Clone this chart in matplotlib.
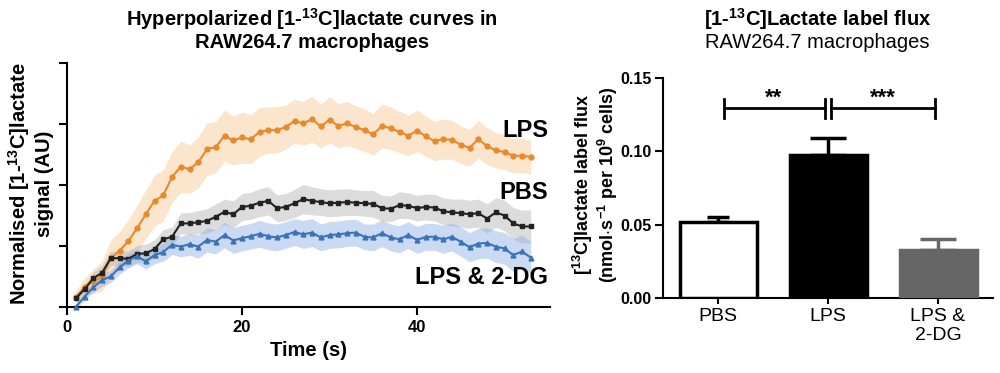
import numpy as np
import matplotlib
matplotlib.use("Agg")
import matplotlib.pyplot as plt

plt.rcParams['font.family'] = ['Liberation Sans', 'DejaVu Sans']
plt.rcParams['mathtext.fontset'] = 'custom'
plt.rcParams['mathtext.rm'] = 'Liberation Sans'
plt.rcParams['mathtext.bf'] = 'Liberation Sans:bold'
plt.rcParams['mathtext.it'] = 'Liberation Sans:italic'

# ---- left panel: hyperpolarized lactate curves (AU, one unit per y tick) ----
time_s = np.arange(1, 54)

lps = [0.16, 0.33, 0.42, 0.50, 0.80, 0.92, 1.08, 1.29, 1.52, 1.74,
       1.83, 2.13, 2.30, 2.26, 2.37, 2.59, 2.62, 2.81, 2.73, 2.78,
       2.75, 2.87, 2.90, 2.90, 2.95, 3.05, 3.01, 3.08, 2.96, 3.07,
       2.97, 3.01, 2.95, 2.90, 2.83, 2.97, 2.93, 2.87, 2.81, 2.89,
       2.80, 2.72, 2.75, 2.74, 2.66, 2.61, 2.75, 2.64, 2.57, 2.54,
       2.48, 2.48, 2.46]
lps_sem = [0.10, 0.15, 0.20, 0.25, 0.30, 0.32, 0.35, 0.38, 0.40, 0.42,
           0.42, 0.42, 0.42, 0.40, 0.42, 0.43, 0.42, 0.42, 0.40, 0.42,
           0.40, 0.40, 0.38, 0.38, 0.36, 0.36, 0.36, 0.38, 0.36, 0.38,
           0.36, 0.36, 0.35, 0.35, 0.34, 0.36, 0.35, 0.34, 0.33, 0.34,
           0.33, 0.32, 0.33, 0.32, 0.31, 0.30, 0.31, 0.30, 0.29, 0.29,
           0.28, 0.28, 0.28]

pbs = [0.14, 0.29, 0.47, 0.56, 0.80, 0.80, 0.79, 0.87, 0.88, 0.95,
       1.11, 1.15, 1.37, 1.37, 1.39, 1.41, 1.48, 1.56, 1.52, 1.64,
       1.66, 1.71, 1.74, 1.62, 1.64, 1.70, 1.77, 1.74, 1.72, 1.70,
       1.71, 1.72, 1.71, 1.70, 1.69, 1.62, 1.61, 1.67, 1.66, 1.62,
       1.64, 1.63, 1.57, 1.55, 1.54, 1.52, 1.54, 1.45, 1.55, 1.50,
       1.37, 1.32, 1.32]
pbs_sem = [0.06, 0.08, 0.10, 0.12, 0.12, 0.12, 0.13, 0.14, 0.15, 0.15,
           0.16, 0.16, 0.17, 0.18, 0.19, 0.20, 0.21, 0.21, 0.22, 0.22,
           0.22, 0.23, 0.23, 0.22, 0.22, 0.23, 0.24, 0.23, 0.22, 0.22,
           0.22, 0.22, 0.21, 0.21, 0.22, 0.21, 0.21, 0.22, 0.21, 0.21,
           0.21, 0.22, 0.22, 0.22, 0.23, 0.23, 0.23, 0.24, 0.24, 0.25,
           0.26, 0.27, 0.27]

lps_2dg = [0.00, 0.17, 0.32, 0.44, 0.50, 0.65, 0.76, 0.83, 0.75, 0.85,
           0.90, 1.02, 0.99, 1.03, 0.99, 1.10, 1.07, 1.18, 1.09, 1.13,
           1.16, 1.20, 1.16, 1.14, 1.18, 1.23, 1.19, 1.22, 1.14, 1.18,
           1.19, 1.21, 1.22, 1.15, 1.14, 1.21, 1.14, 1.11, 1.18, 1.10,
           1.15, 1.15, 1.11, 1.15, 1.07, 0.98, 1.04, 1.05, 0.99, 0.96,
           0.85, 0.91, 0.81]
lps_2dg_sem = [0.04, 0.06, 0.08, 0.10, 0.10, 0.11, 0.12, 0.12, 0.13, 0.14,
               0.15, 0.16, 0.17, 0.18, 0.19, 0.20, 0.20, 0.21, 0.21, 0.21,
               0.21, 0.22, 0.22, 0.22, 0.22, 0.22, 0.23, 0.23, 0.22, 0.22,
               0.22, 0.22, 0.22, 0.21, 0.22, 0.22, 0.22, 0.22, 0.22, 0.22,
               0.22, 0.22, 0.23, 0.23, 0.24, 0.24, 0.25, 0.25, 0.26, 0.26,
               0.27, 0.27, 0.27]

# ---- right panel: label flux ----
groups = ['PBS', 'LPS', 'LPS &\n2-DG']
flux = [0.052, 0.097, 0.033]
flux_sem = [0.003, 0.012, 0.007]
sig_pairs = [(0, 1, '**'), (1, 2, '***')]

fig = plt.figure(figsize=(10, 3.73), dpi=100)

ax1 = fig.add_axes([0.067, 0.177, 0.483, 0.654])
series = [
    (lps, lps_sem, '#E8892B', '#F5B970', 0.35, 'o'),
    (pbs, pbs_sem, '#222222', '#A8A8A8', 0.40, 's'),
    (lps_2dg, lps_2dg_sem, '#3B73B9', '#8CAEE6', 0.45, '^'),
]
for vals, sem, col, fcol, al, mk in series:
    v = np.array(vals)
    s = np.array(sem)
    ax1.fill_between(time_s, v - s, v + s, color=fcol, alpha=al, lw=0)
for vals, sem, col, fcol, al, mk in series:
    ax1.plot(time_s, vals, color=col, marker=mk, markersize=3.5, lw=1.5,
             clip_on=False, zorder=3)

ax1.text(55.0, 2.9, 'LPS', ha='right', va='center', fontsize=17, fontweight='bold')
ax1.text(55.0, 1.87, 'PBS', ha='right', va='center', fontsize=17, fontweight='bold')
ax1.text(55.0, 0.49, 'LPS & 2-DG', ha='right', va='center', fontsize=17, fontweight='bold')

ax1.set_xlim(0, 55.2)
ax1.set_ylim(0, 4)
ax1.set_xticks([0, 20, 40])
ax1.set_yticks([0, 1, 2, 3, 4])
ax1.set_yticklabels([])
for lab in ax1.get_xticklabels():
    lab.set_fontweight('bold')
ax1.tick_params(axis='both', direction='out', length=6, width=1.5, labelsize=12)
for sp in ['top', 'right']:
    ax1.spines[sp].set_visible(False)
for sp in ['left', 'bottom']:
    ax1.spines[sp].set_linewidth(1.5)
ax1.set_xlabel('Time (s)', fontsize=14.5, fontweight='bold', labelpad=4)

fig.text(0.030, 0.507, r'Normalised [1-$^{\mathbf{13}}$C]lactate' + '\nsignal (AU)',
         rotation=90, ha='center', va='center', fontsize=14.5, fontweight='bold',
         multialignment='center')
fig.text(0.312, 0.949, r'Hyperpolarized [1-$^{\mathbf{13}}$C]lactate curves in',
         ha='center', va='center', fontsize=14.5, fontweight='bold')
fig.text(0.312, 0.885, 'RAW264.7 macrophages', ha='center', va='center',
         fontsize=14.5, fontweight='bold')

# right panel
ax2 = fig.add_axes([0.663, 0.201, 0.330, 0.591])
x = np.arange(len(groups))
face = ['white', 'black', '#666666']
edge = ['black', 'black', '#666666']
caps = [8, 13, 13]
ax2.bar(x, flux, width=0.7, color=face, edgecolor=edge, linewidth=2.5, zorder=3)
for i in range(len(groups)):
    ax2.errorbar(x[i], flux[i], yerr=[[0], [flux_sem[i]]], fmt='none',
                 ecolor=edge[i], elinewidth=2.5, capsize=caps[i], capthick=2.5,
                 zorder=2)

yb = 0.129
for a, b, star in sig_pairs:
    x0 = a + 0.05 if a == 0 else a + 0.03
    x1 = b - 0.03
    ax2.plot([x0, x1], [yb, yb], color='black', lw=2)
    ax2.plot([x0, x0], [yb - 0.0065, yb + 0.0065], color='black', lw=2)
    ax2.plot([x1, x1], [yb - 0.0065, yb + 0.0065], color='black', lw=2)
    ax2.text((x0 + x1) / 2, yb - 0.0005, star, ha='center', va='bottom',
             fontsize=16, fontweight='bold')

ax2.set_xlim(-0.5, 2.5)
ax2.set_ylim(0, 0.15)
ax2.set_yticks([0, 0.05, 0.10, 0.15])
ax2.set_yticklabels(['0.00', '0.05', '0.10', '0.15'])
for lab in ax2.get_yticklabels():
    lab.set_fontweight('bold')
    lab.set_fontsize(11.5)
ax2.set_xticks(x)
ax2.set_xticklabels(groups, fontsize=14, linespacing=1.15)
ax2.tick_params(axis='y', direction='out', length=6, width=1.5, pad=2)
ax2.tick_params(axis='x', direction='out', length=4, width=1.5)
for sp in ['top', 'right']:
    ax2.spines[sp].set_visible(False)
for sp in ['left', 'bottom']:
    ax2.spines[sp].set_linewidth(1.5)

fig.text(0.583, 0.505, r'[$^{\mathbf{13}}$C]lactate label flux',
         rotation=90, ha='center', va='center', fontsize=13, fontweight='bold')
fig.text(0.608, 0.505, r'(nmol$\mathbf{\cdot}$s$^{\mathbf{-1}}$ per 10$^{\mathbf{9}}$ cells)',
         rotation=90, ha='center', va='center', fontsize=13, fontweight='bold')
fig.text(0.8175, 0.949, r'[1-$^{\mathbf{13}}$C]Lactate label flux', ha='center',
         va='center', fontsize=14.5, fontweight='bold')
fig.text(0.8175, 0.885, 'RAW264.7 macrophages', ha='center', va='center',
         fontsize=14.5)

fig.savefig('out.png', dpi=100)
